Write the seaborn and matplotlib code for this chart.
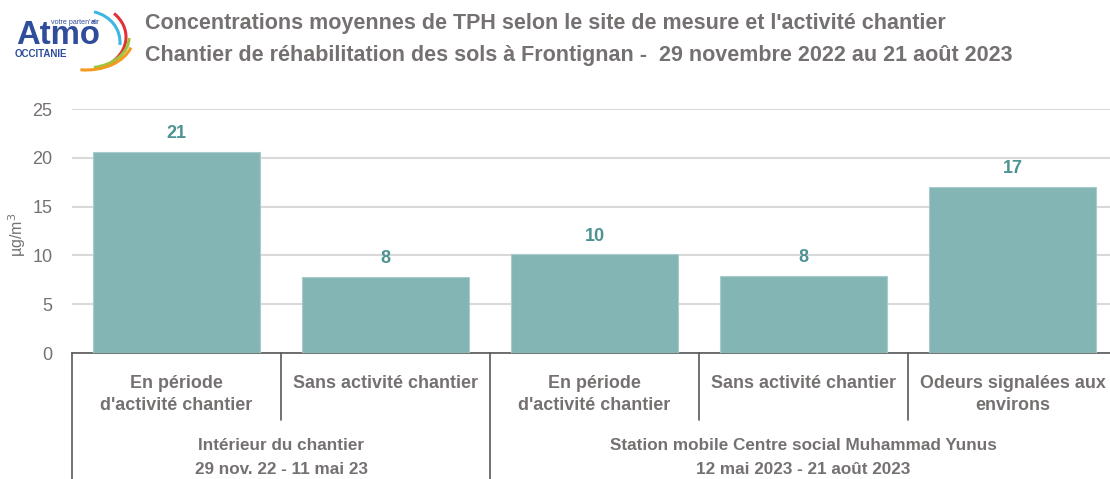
import matplotlib
matplotlib.use("Agg")
import matplotlib.pyplot as plt
import seaborn as sns
import pandas as pd
from matplotlib.patches import Arc
from matplotlib import transforms

# ---- data ----
bar_ids = ["int_act", "int_sans", "sta_act", "sta_sans", "sta_odeurs"]
sub_labels = ["En période\nd'activité chantier", "Sans activité chantier",
              "En période\nd'activité chantier", "Sans activité chantier",
              "Odeurs signalées aux\nenvirons"]
values = [20.6, 7.8, 10.1, 7.9, 17.0]
group_labels = ["Intérieur du chantier\n29 nov. 22 - 11 mai 23",
                "Station mobile Centre social Muhammad Yunus\n12 mai 2023 - 21 août 2023"]
group_sizes = [2, 3]
title_lines = ["Concentrations moyennes de TPH selon le site de mesure et l'activité chantier",
               "Chantier de réhabilitation des sols à Frontignan -  29 novembre 2022 au 21 août 2023"]
y_ticks = [0, 5, 10, 15, 20, 25]

df = pd.DataFrame({"id": bar_ids, "val": values})

sns.set_theme(style="white")
FONT = ["Liberation Sans", "DejaVu Sans"]
plt.rcParams["font.family"] = FONT

TXT = "#767171"
BAR = "#84B5B5"
VAL = "#4E9393"

W, H = 1110, 479
fig = plt.figure(figsize=(W / 100, H / 100), dpi=100)
renderer = fig.canvas.get_renderer()


def fit(t, target_px):
    w = t.get_window_extent(renderer).width
    t.set_fontsize(t.get_fontsize() * target_px / w)
    return t.get_fontsize()


def fy(py):
    return 1 - py / H


left, right, bottom, top = 72, 1117, 353, 109
ax = fig.add_axes([left / W, (H - bottom) / H, (right - left) / W, (bottom - top) / H])

sns.barplot(data=df, x="id", y="val", order=bar_ids, color=BAR, width=0.8,
            saturation=1, ax=ax, zorder=3, edgecolor="#A9CBCB", linewidth=0.8)
ax.set_ylim(0, 25)
ax.set_xlim(-0.5, len(bar_ids) - 0.5)
ax.set_yticks(y_ticks)
ax.set_yticklabels([str(t) for t in y_ticks], fontsize=13, color=TXT)
ax.tick_params(axis="y", length=0, pad=14)
ax.yaxis.grid(True, color="#D9D9D9", linewidth=1.5, zorder=0)
ax.set_axisbelow(True)
for s in ["left", "right", "top"]:
    ax.spines[s].set_visible(False)
ax.spines["bottom"].set_color("#595959")
ax.spines["bottom"].set_linewidth(1.2)
ax.set_xlabel("")
ax.set_ylabel("")
ax.set_xticks(range(len(bar_ids)))
ax.set_xticklabels([])
ax.tick_params(axis="x", length=0)

fig.text(17 / W, fy(235), "µg/m$^3$", fontsize=11.5, color=TXT, rotation=90,
         ha="center", va="center")

# value labels
for cont in ax.containers:
    ax.bar_label(cont, fmt="%.0f", padding=7, fontsize=13, fontweight="bold", color=VAL)

trans = transforms.blended_transform_factory(ax.transData, fig.transFigure)

# sub-category labels (each line placed)
probe = fig.text(0, 0, "Sans activité chantier", fontsize=14, fontweight="bold")
sub_fs = fit(probe, 184)
probe.remove()
for i, lab in enumerate(sub_labels):
    for li, line in enumerate(lab.split("\n")):
        ax.text(i, fy(383 + 23 * li), line, transform=trans, ha="center", va="center",
                fontsize=sub_fs, fontweight="bold", color=TXT)

# separators
bounds = [0]
for g in group_sizes:
    bounds.append(bounds[-1] + g)
for i in range(len(bar_ids) + 1):
    xpos = i - 0.5
    yend = fy(H + 5) if i in bounds else fy(420)
    ax.plot([xpos, xpos], [fy(bottom), yend], transform=trans, color="#595959",
            linewidth=1.2, clip_on=False)

# group labels
probe = fig.text(0, 0, "Station mobile Centre social Muhammad Yunus", fontsize=14,
                 fontweight="bold")
grp_fs = fit(probe, 388)
probe.remove()
for gi, glab in enumerate(group_labels):
    cx = (bounds[gi] + bounds[gi + 1] - 1) / 2
    for li, line in enumerate(glab.split("\n")):
        ax.text(cx, fy(445 + 25 * li), line, transform=trans, ha="center", va="center",
                fontsize=grp_fs, fontweight="bold", color=TXT)

# title
t1 = fig.text(145 / W, fy(23), title_lines[0], fontsize=16, fontweight="bold",
              color=TXT, ha="left", va="center")
fit(t1, 798)
t2 = fig.text(145 / W, fy(56), title_lines[1], fontsize=16, fontweight="bold",
              color=TXT, ha="left", va="center")
fit(t2, 865)

# logo
LB = "#2F4D9B"
ta = fig.text(16 / W, fy(35), "Atmo", fontsize=25, fontweight="bold", color=LB,
              ha="left", va="center")
fit(ta, 84)
to = fig.text(15 / W, fy(54), "OCCITANIE", fontsize=6.5, fontweight="bold", color=LB,
              ha="left", va="center")
fit(to, 53)
tv = fig.text(51 / W, fy(23), "votre parten'", fontsize=5, color=LB,
              ha="left", va="center")
fit(tv, 40)
ex = tv.get_window_extent(renderer)
fig.text(ex.x1 / W, fy(23), "air", fontsize=tv.get_fontsize(), color=LB,
         fontweight="bold", ha="left", va="center")
lax = fig.add_axes([0, 1 - 80 / H, 140 / W, 80 / H])
lax.set_xlim(0, 140)
lax.set_ylim(80, 0)
lax.axis("off")
# arcs (y axis inverted -> positive angles go downward)
for (cx_, cy_, w, h, a1, a2, col) in [(86, 42, 68, 62, -75, 5, "#3DB6E3"),
                                      (86, 37, 80, 66, -40, 45, "#E2313B"),
                                      (86, 38, 86, 60, 0, 75, "#9BC53D"),
                                      (86, 38, 94, 64, 12, 100, "#F39A1E")]:
    lax.add_patch(Arc((cx_, cy_), w, h, theta1=a1, theta2=a2, color=col, linewidth=2.2))

fig.savefig("out.png", dpi=100)
